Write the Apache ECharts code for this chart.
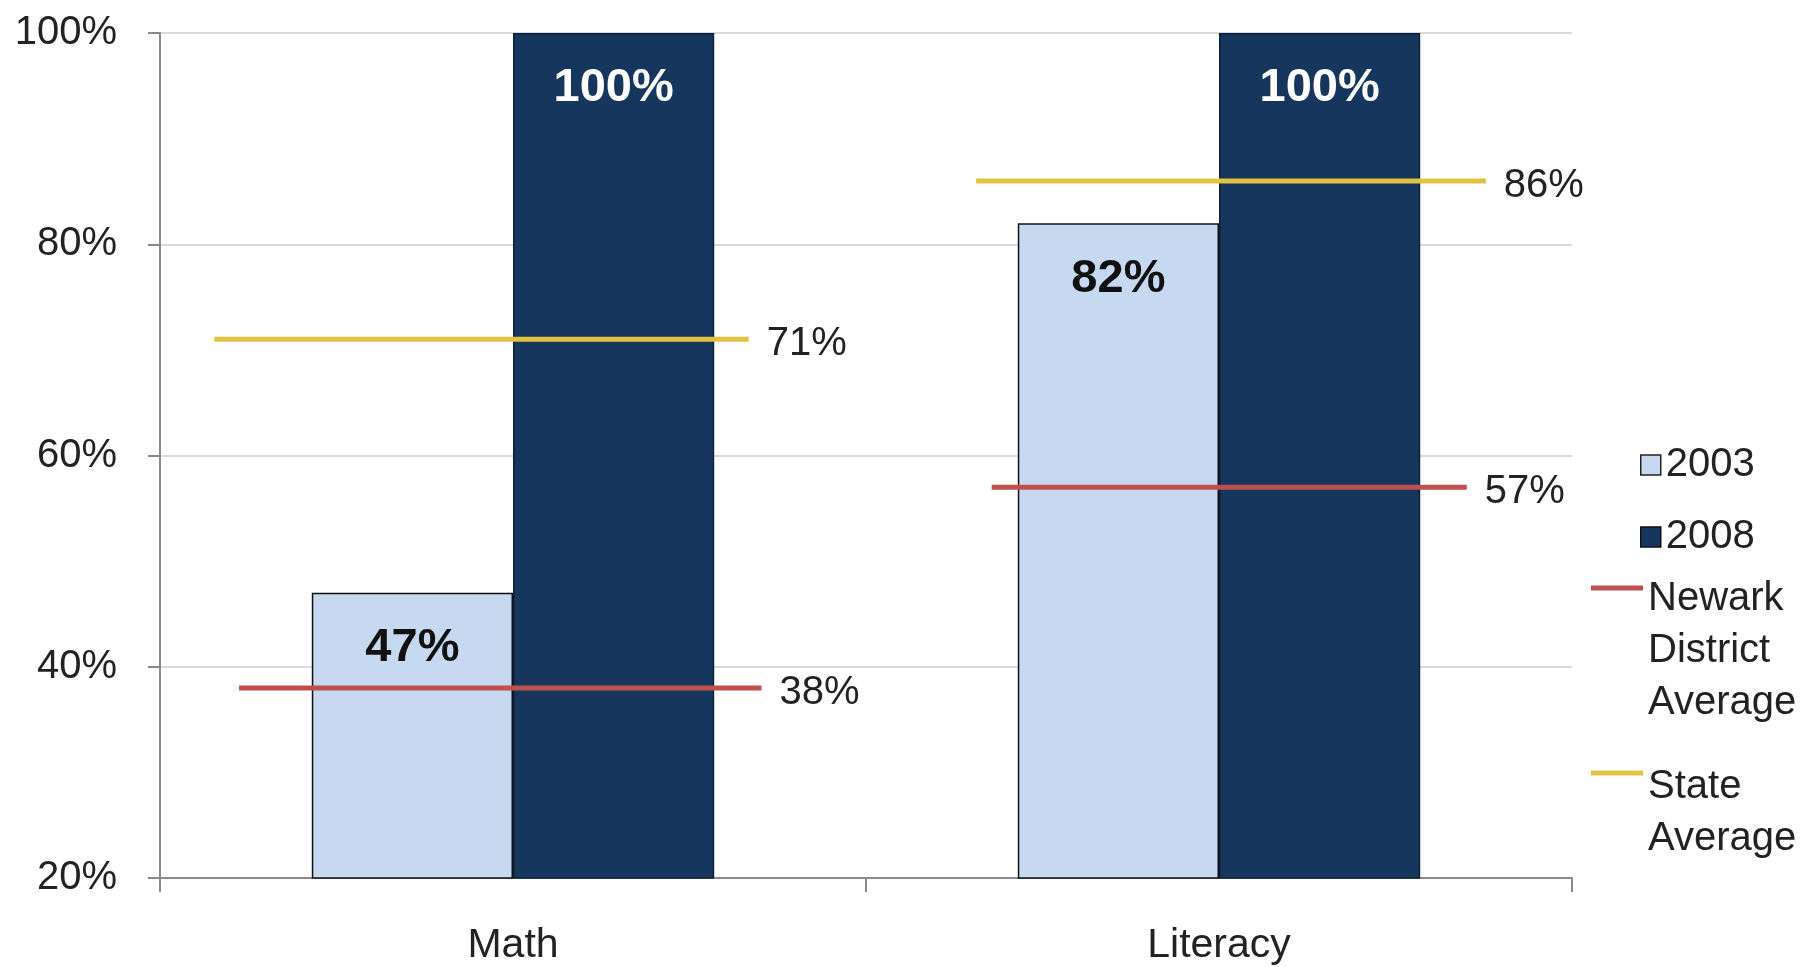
<!DOCTYPE html>
<html>
<head>
<meta charset="utf-8">
<script src="https://cdn.jsdelivr.net/npm/echarts@6/dist/echarts.min.js"></script>
<style>
  html, body { margin: 0; padding: 0; background: #ffffff; }
  #chart { width: 1804px; height: 967px; }
</style>
</head>
<body>
<div id="chart"></div>
<script>
// ---- data ----
const categories = ['Math', 'Literacy'];
const values2003 = [47, 82];
const values2008 = [100, 100];
const newarkAvg = [38, 57];
const stateAvg = [71, 86];
const yTickValues = [20, 40, 60, 80, 100];

// ---- layout / style (not data) ----
const FONT = '"Liberation Sans", Arial, sans-serif';
const COLOR_2003 = '#c6d9f1';
const COLOR_2008 = '#17365d';
const COLOR_NEWARK = '#c0504d';
const COLOR_STATE = '#e3c142';
// horizontal extent of each average line, in fractions of the category band
const newarkSpans = [[-0.388, 0.352], [-0.322, 0.351]];
const stateSpans = [[-0.423, 0.334], [-0.344, 0.378]];

function avgRenderer(spans, color) {
  return function (params, api) {
    const i = api.value(0);
    const v = api.value(1);
    const c = api.coord([i, v]);
    const bw = api.size([1, 0])[0];
    const s = spans[params.dataIndex];
    const x1 = c[0] + s[0] * bw;
    const x2 = c[0] + s[1] * bw;
    return {
      type: 'group',
      children: [
        { type: 'line', shape: { x1: x1, y1: c[1], x2: x2, y2: c[1] },
          style: { stroke: color, lineWidth: 5 } },
        { type: 'text', style: { text: v + '%', x: x2 + 18, y: c[1] + 5,
          align: 'left', verticalAlign: 'middle', fontSize: 40, fontFamily: FONT, fill: '#222' } }
      ]
    };
  };
}

const chart = echarts.init(document.getElementById('chart'), null, { renderer: 'canvas' });

const textRich = { fontSize: 40, fontFamily: FONT, color: '#222', lineHeight: 52 };

function legendCfg(extra, padHeight) {
  return Object.assign({
    orient: 'vertical', padding: 0, selectedMode: false, itemGap: 0,
    textStyle: {
      fontSize: 40, fontFamily: FONT, color: '#222', lineHeight: 52,
      rich: { t: textRich, p: { fontSize: 10, lineHeight: padHeight || 1 } }
    },
    formatter: function (n) {
      const lines = n.split(' ').map(function (w) { return '{t|' + w + '}'; });
      if (padHeight) lines.unshift('{p| }');
      return lines.join('\n');
    }
  }, extra);
}

const option = {
  backgroundColor: '#ffffff',
  animation: false,
  grid: { left: 160, right: 232, top: 33, bottom: 89, containLabel: false },
  legend: [
    legendCfg({
      left: 1640, top: 439, itemWidth: 20, itemHeight: 20,
      data: [{ name: '2003', icon: 'rect', itemStyle: { color: COLOR_2003, borderColor: '#222', borderWidth: 1.5 } }]
    }),
    legendCfg({
      left: 1640, top: 511, itemWidth: 20, itemHeight: 20,
      data: [{ name: '2008', icon: 'rect', itemStyle: { color: COLOR_2008, borderColor: '#111', borderWidth: 1.5 } }]
    }),
    legendCfg({
      left: 1591, top: 447, itemWidth: 52, itemHeight: 5,
      data: [{ name: 'Newark District Average', icon: 'rect', itemStyle: { color: COLOR_NEWARK } }]
    }, 126),
    legendCfg({
      left: 1591, top: 681, itemWidth: 52, itemHeight: 5,
      data: [{ name: 'State Average', icon: 'rect', itemStyle: { color: COLOR_STATE } }]
    }, 80)
  ],
  xAxis: {
    type: 'category',
    data: categories,
    axisLine: { show: true, lineStyle: { color: '#8a8a8a', width: 2 } },
    axisTick: { show: true, length: 14, lineStyle: { color: '#8a8a8a', width: 2 } },
    axisLabel: { fontSize: 41, fontFamily: FONT, color: '#222', margin: 47 },
    splitLine: { show: false }
  },
  yAxis: {
    type: 'value',
    min: yTickValues[0],
    max: yTickValues[yTickValues.length - 1],
    interval: yTickValues[1] - yTickValues[0],
    axisLine: { show: true, lineStyle: { color: '#8a8a8a', width: 2 } },
    axisTick: { show: true, length: 12, lineStyle: { color: '#8a8a8a', width: 2 } },
    axisLabel: { fontSize: 40, fontFamily: FONT, color: '#222', margin: 43, formatter: '{value}%' },
    splitLine: { show: true, lineStyle: { color: '#d9d9d9', width: 2 } }
  },
  series: [
    {
      name: '2003', type: 'bar', data: values2003,
      barGap: '0%', barCategoryGap: '43%',
      itemStyle: { color: COLOR_2003, borderColor: '#111', borderWidth: 1.5 },
      label: { show: true, position: 'insideTop', distance: 32, formatter: '{c}%',
        fontSize: 47, fontWeight: 'bold', fontFamily: FONT, color: '#111' },
      z: 2
    },
    {
      name: '2008', type: 'bar', data: values2008,
      itemStyle: { color: COLOR_2008, borderColor: '#0d1f38', borderWidth: 1.5 },
      label: { show: true, position: 'insideTop', distance: 32, formatter: '{c}%',
        fontSize: 47, fontWeight: 'bold', fontFamily: FONT, color: '#ffffff' },
      z: 2
    },
    {
      name: 'Newark District Average', type: 'custom',
      data: newarkAvg.map(function (v, i) { return [i, v]; }),
      encode: { x: 0, y: 1 },
      itemStyle: { color: COLOR_NEWARK },
      renderItem: avgRenderer(newarkSpans, COLOR_NEWARK),
      z: 5
    },
    {
      name: 'State Average', type: 'custom',
      data: stateAvg.map(function (v, i) { return [i, v]; }),
      encode: { x: 0, y: 1 },
      itemStyle: { color: COLOR_STATE },
      renderItem: avgRenderer(stateSpans, COLOR_STATE),
      z: 5
    }
  ]
};

chart.setOption(option);
</script>
</body>
</html>
